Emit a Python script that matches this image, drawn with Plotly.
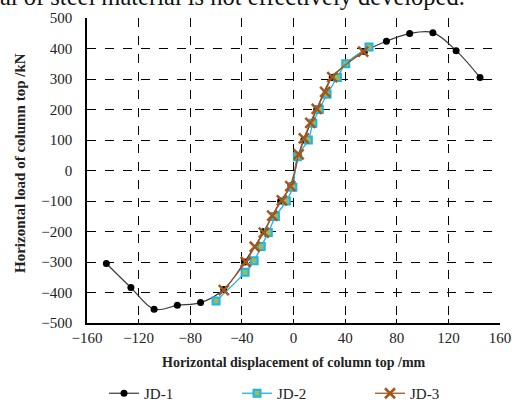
import plotly.graph_objects as go

# JD-1
jd1_x = [-145, -126, -108, -90, -72, -54, -38, -23, -10, -2, 4, 8, 18, 30, 55, 72, 90, 108, 126, 144.5]
jd1_y = [-305, -384, -455, -442, -433, -390, -300, -200, -100, -50, 50, 100, 200, 305, 390, 424, 449, 452, 393, 305]
# JD-2
jd2_x = [-60, -37.5, -30.5, -25, -19.5, -14, -5.5, -0.5, 3, 11.5, 15, 20, 26, 34, 40.5, 58.5]
jd2_y = [-428, -334, -296, -249, -203, -151, -100, -55, 45, 100, 155, 200, 250, 305, 350, 405]
# JD-3
jd3_x = [-54, -37, -30, -23, -16.5, -9, -2.5, 4, 8, 13, 18, 24.5, 30, 54]
jd3_y = [-392, -300, -250, -204, -148, -98, -51, 53, 105, 156, 202, 258, 306, 390]

x_ticks = [-160, -120, -80, -40, 0, 40, 80, 120, 160]
y_ticks = [-500, -400, -300, -200, -100, 0, 100, 200, 300, 400, 500]

FONT = "Liberation Serif"

fig = go.Figure()
fig.add_trace(go.Scatter(
    x=jd1_x, y=jd1_y, name="JD-1", mode="lines+markers", line_shape="spline",
    line=dict(color="#3a3a3a", width=1.2),
    marker=dict(symbol="circle", size=7, color="black")))
fig.add_trace(go.Scatter(
    x=jd2_x, y=jd2_y, name="JD-2", mode="lines+markers", line_shape="spline",
    line=dict(color="#19B5F0", width=1.3),
    marker=dict(symbol="square", size=7, color="#9BBB59", line=dict(color="#19B5F0", width=2))))
fig.add_trace(go.Scatter(
    x=jd3_x, y=jd3_y, name="JD-3", mode="lines+markers", line_shape="spline",
    line=dict(color="#A5561A", width=1.3),
    marker=dict(symbol="x-thin", size=10, color="#A5561A", line=dict(color="#A5561A", width=2.5))))

axis_common = dict(
    showgrid=True, gridcolor="black", griddash="dash", gridwidth=1,
    showline=True, linecolor="black", linewidth=1.5,
    ticks="inside", ticklen=4, tickcolor="black",
    tickfont=dict(family=FONT, size=15, color="#222"),
    zeroline=False,
)

fig.update_xaxes(range=[-160, 160], tickvals=x_ticks, **axis_common)
fig.update_yaxes(range=[-500, 500], tickvals=y_ticks, **axis_common, ticklabelstandoff=10)

# axis titles
fig.add_annotation(text="<b>Horizontal displacement of column top /mm</b>",
                   xref="paper", yref="paper", x=0.5, y=-0.128,
                   xanchor="center", yanchor="middle", showarrow=False,
                   font=dict(family=FONT, size=14, color="#222"))
fig.add_annotation(text="<b>Horizontal load of column top /kN</b>",
                   xref="paper", yref="paper", x=-0.162, y=0.525, textangle=-90,
                   xanchor="center", yanchor="middle", showarrow=False,
                   font=dict(family=FONT, size=15, color="#222"))

fig.add_annotation(text="al of steel material is not effectively developed.",
                   xref="paper", yref="paper", x=-0.215, y=1.02,
                   xanchor="left", yanchor="bottom", showarrow=False,
                   font=dict(family=FONT, size=24.5, color="#111"))

fig.update_layout(
    width=520, height=410,
    margin=dict(l=87, r=20, t=18, b=87, autoexpand=False),
    paper_bgcolor="white", plot_bgcolor="white",
    showlegend=True,
    legend=dict(orientation="h", xref="container", x=0.2, xanchor="left",
                yref="container", y=0.0, yanchor="bottom",
                entrywidth=88, font=dict(family=FONT, size=15, color="#222"),
                itemwidth=30),
)

fig.write_html("out.html", post_script="document.body.style.margin='0px';",
               config={"displayModeBar": False})
